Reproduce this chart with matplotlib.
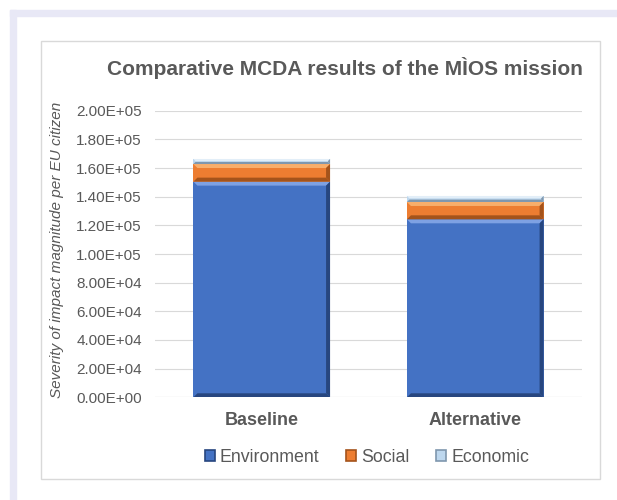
import matplotlib.pyplot as plt
from matplotlib.patches import Polygon, Rectangle
from matplotlib.ticker import FuncFormatter
import numpy as np

plt.rcParams['font.family'] = ['Liberation Sans', 'DejaVu Sans']

categories = ['Baseline', 'Alternative']
environment = [150500, 124200]
social = [12300, 12100]
economic = [3500, 4200]

series = [('Environment', environment), ('Social', social), ('Economic', economic)]
# face, light edge, dark edge
colors = {
    'Environment': ('#4472C4', '#7EA1E3', '#27467F'),
    'Social': ('#ED7D31', '#F8AE6B', '#A4531B'),
    'Economic': ('#BDD7EE', '#E2EEF8', '#7F97AE'),
}

W, H = 617, 500
fig = plt.figure(figsize=(W / 100, H / 100), dpi=100)

# outer frame decoration
fig.patches.append(Rectangle((10 / W, 0), 6 / W, 1 - 10 / H, transform=fig.transFigure,
                             color='#E8E8F6', zorder=-2))
fig.patches.append(Rectangle((10 / W, 1 - 16 / H), 1 - 10 / W, 6 / H, transform=fig.transFigure,
                             color='#E8E8F6', zorder=-2))
fig.patches.append(Rectangle((41 / W, 1 - 479 / H), 559 / W, 438 / H, transform=fig.transFigure,
                             facecolor='white', edgecolor='#D9D9D9', lw=1, zorder=-1))

ax_l, ax_b, ax_w, ax_h = 155, 397.3, 427, 286.6
ax = fig.add_axes([ax_l / W, 1 - ax_b / H, ax_w / W, ax_h / H])
ax.set_xlim(-0.5, 1.5)
ax.set_ylim(0, 200000)
ax.patch.set_visible(False)

dx = 2.0 / ax_w
dy = 200000 / ax_h
bw = 0.64
x = np.arange(len(categories))


def bevel(x0, y0, w, h, face, light, dark, b=4):
    by = min(b * dy, h / 2.5)
    bx = by / dy * dx
    x1, y1 = x0 + w, y0 + h
    ax.add_patch(Rectangle((x0, y0), w, h, facecolor=face, edgecolor='none', zorder=3))
    # top
    ax.add_patch(Polygon([(x0, y1), (x1, y1), (x1 - bx, y1 - by), (x0 + bx, y1 - by)],
                         facecolor=light, edgecolor='none', zorder=4))
    # bottom
    ax.add_patch(Polygon([(x0, y0), (x1, y0), (x1 - bx, y0 + by), (x0 + bx, y0 + by)],
                         facecolor=dark, edgecolor='none', zorder=4))
    # right
    ax.add_patch(Polygon([(x1, y0), (x1, y1), (x1 - bx, y1 - by), (x1 - bx, y0 + by)],
                         facecolor=dark, edgecolor='none', zorder=4))


bottom = np.zeros(len(categories))
for name, vals in series:
    face, light, dark = colors[name]
    for i, v in enumerate(vals):
        bevel(x[i] - bw / 2, bottom[i], bw, v, face, light, dark)
    bottom += np.array(vals)

ax.set_yticks(np.arange(0, 200001, 20000))
ax.yaxis.set_major_formatter(FuncFormatter(lambda v, p: f'{v:.2E}'))
ax.set_xticks(x)
ax.set_xticklabels(categories, fontsize=13, fontweight='bold', color='#595959')
ax.tick_params(axis='y', labelsize=11, labelcolor='#595959', length=0, pad=9.5)
ax.tick_params(axis='x', length=0, pad=10.5)
ax.grid(axis='y', color='#D9D9D9', lw=0.8, zorder=0)
ax.set_axisbelow(True)
for s in ax.spines.values():
    s.set_visible(False)
ax.axhline(0, color='#D9D9D9', lw=0.8, zorder=1)

ax.set_ylabel('Severity of impact magnitude per EU citizen', fontsize=11, style='italic',
              color='#595959')
ax.yaxis.set_label_coords((64 - ax_l) / ax_w, (397.3 - 250) / ax_h)

fig.text(345 / W, 1 - 68 / H, 'Comparative MCDA results of the MÌOS mission', ha='center',
         va='center', fontsize=15, fontweight='bold', color='#595959')

handles = [Rectangle((0, 0), 1, 1, facecolor=colors[n][0], edgecolor=colors[n][2], lw=1.2)
           for n, _ in series]
fig.legend(handles, [n for n, _ in series], loc='center', bbox_to_anchor=(367 / W, 1 - 457 / H),
           ncol=3, frameon=False, fontsize=12.8, handlelength=0.55, handleheight=0.55,
           handletextpad=0.3, columnspacing=1.5, labelcolor='#595959')

fig.savefig('out.png', dpi=100)
